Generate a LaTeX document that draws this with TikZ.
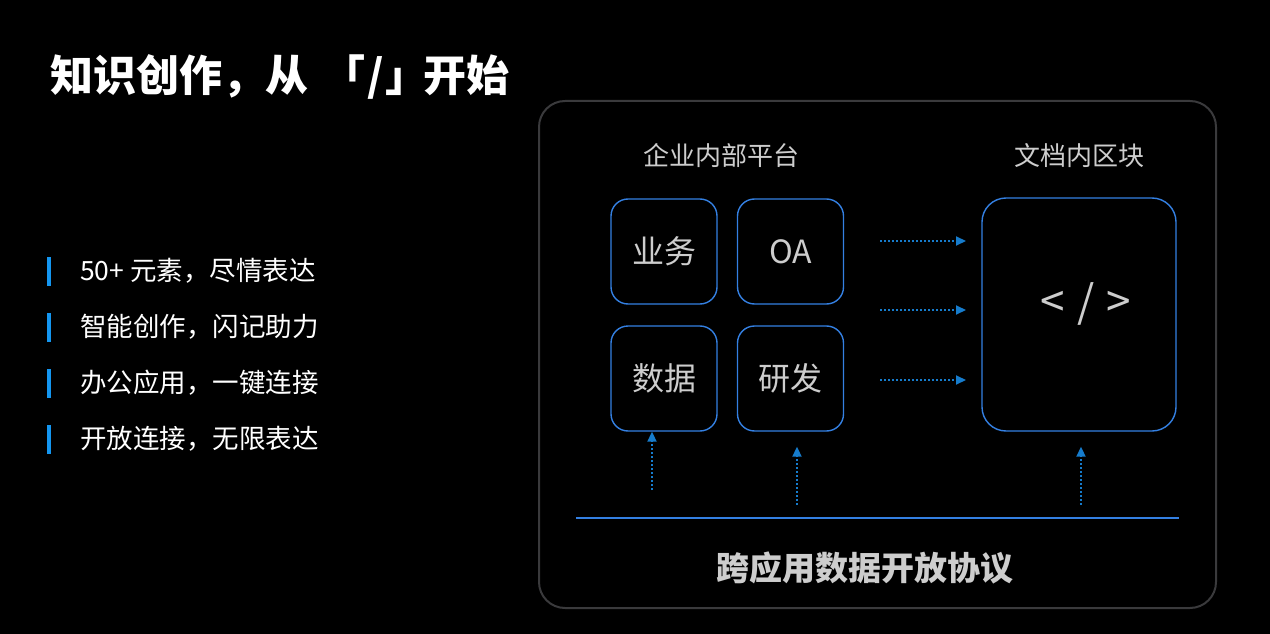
\documentclass[tikz,border=0pt]{standalone}
\usepackage{fontspec}
\setmainfont{Noto Sans CJK SC}
\usepackage{tikz}
\usetikzlibrary{arrows.meta,positioning}
\definecolor{bgblack}{RGB}{0,0,0}
\definecolor{frameGray}{RGB}{58,58,60}
\definecolor{boxBlue}{RGB}{52,128,226}
\definecolor{flowBlue}{RGB}{22,124,204}
\definecolor{barBlue}{RGB}{20,150,240}
\definecolor{txtGray}{RGB}{205,205,205}

\tikzset{
    tile/.style={draw=boxBlue, line width=1.4pt, rounded corners=17pt,
        minimum width=106pt, minimum height=105pt, inner sep=0pt,
        text=txtGray, font=\fontsize{32pt}{38pt}\selectfont},
    flow/.style={flowBlue, line width=2pt, dash pattern=on 2pt off 2pt,
        -{Triangle[length=10pt,width=9pt]}},
    bullet/.style={anchor=west, text=white, inner sep=0pt,
        font=\fontsize{26.5pt}{30pt}\selectfont},
    caption/.style={text=txtGray, inner sep=0pt,
        font=\fontsize{26pt}{30pt}\selectfont}
}

\begin{document}
\begin{tikzpicture}[x=1pt, y=-1pt]
    % background
    \fill[bgblack] (0,0) rectangle (1270,634);

    % title
    \node[anchor=west, text=white, inner sep=0pt, font=\fontsize{43pt}{50pt}\selectfont\bfseries]
        (title) at (50,77) {知识创作，从\hspace{14pt}「\hspace{2pt}/\hspace{2pt}」\hspace{-5pt}开始};

    % bullet list
    \foreach \y/\txt [count=\i] in {271/{50+ 元素，尽情表达}, 327/{智能创作，闪记助力},
                                    383/{办公应用，一键连接}, 439/{开放连接，无限表达}} {
        \fill[barBlue] (47,\y-14.5) rectangle (51,\y+14.5);
        \node[bullet] (item\i) at (80,\y) {\txt};
    }

    % outer frame
    \draw[frameGray, line width=2pt, rounded corners=26pt] (539,101) rectangle (1216,608);

    % captions
    \node[caption] (platform) at (721,156) {企业内部平台};
    \node[caption] (blocks) at (1079,156) {文档内区块};

    % platform tiles
    \node[tile] (yewu) at (664,251.5) {业务};
    \node[tile] (oa) at (790.5,251.5) {OA};
    \node[tile] (shuju) at (664,378.5) {数据};
    \node[tile] (yanfa) at (790.5,378.5) {研发};

    % document block
    \node[tile, minimum width=194pt, minimum height=233pt, rounded corners=24pt] (doc) at (1079,314.5) {};
    \node[text=txtGray, inner sep=0pt, font=\fontsize{44pt}{50pt}\selectfont]
        (code) at (1086,304) {<\hspace{12pt}/\hspace{12pt}>};

    % horizontal flows
    \foreach \y [count=\i] in {241,310,380} {
        \coordinate (hs\i) at (880,\y);
        \coordinate (he\i) at (966,\y);
        \draw[flow] (hs\i) -- (he\i);
    }

    % protocol line
    \coordinate (lineL) at (576,518);
    \coordinate (lineR) at (1179,518);
    \draw[boxBlue, line width=2pt] (lineL) -- (lineR);

    % vertical flows
    \coordinate (v1) at (652,490);
    \coordinate (v2) at (797,505);
    \coordinate (v3) at (1081,505);
    \draw[flow] (v1) -- (shuju.south -| v1);
    \draw[flow] (v2) -- ([yshift=-15pt]yanfa.south -| v2);
    \draw[flow] (v3) -- ([yshift=-15pt]doc.south -| v3);

    % protocol label
    \node[text=txtGray, inner sep=0pt, font=\fontsize{33pt}{38pt}\selectfont\bfseries]
        (protocol) at (865,568) {跨应用数据开放协议};
\end{tikzpicture}
\end{document}
